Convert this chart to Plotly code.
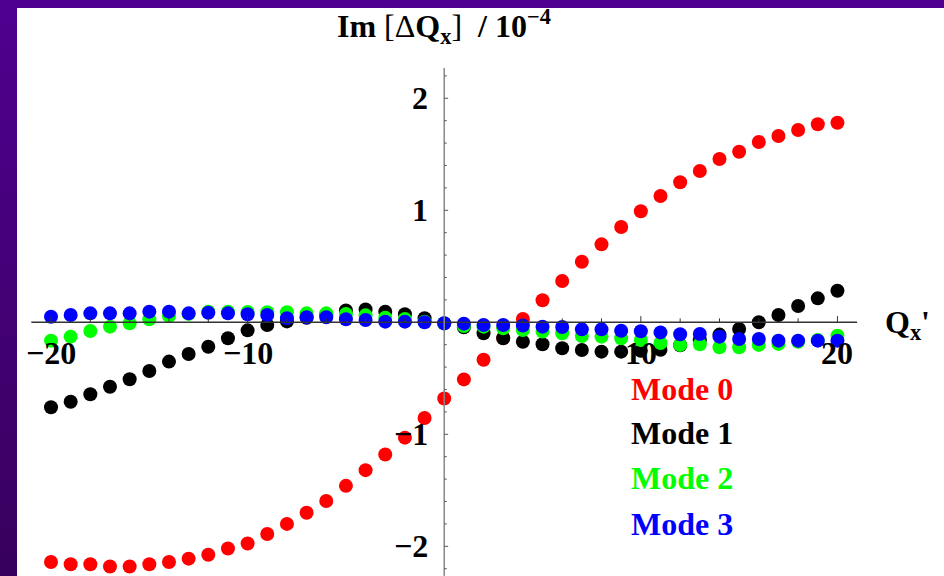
import plotly.graph_objects as go

# ---------------- data ----------------
qx = [-20, -19, -18, -17, -16, -15, -14, -13, -12, -11, -10, -9, -8, -7, -6, -5, -4, -3, -2, -1,
      0, 1, 2, 3, 4, 5, 6, 7, 8, 9, 10, 11, 12, 13, 14, 15, 16, 17, 18, 19, 20]

mode0 = [-2.14, -2.16, -2.16, -2.18, -2.18, -2.16, -2.14, -2.11, -2.075, -2.02, -1.975, -1.89,
         -1.80, -1.70, -1.595, -1.46, -1.32, -1.18, -1.03, -0.855, -0.68, -0.51, -0.335, -0.14,
         0.03, 0.197, 0.369, 0.541, 0.696, 0.851, 0.991, 1.128, 1.25, 1.351, 1.458, 1.523, 1.61,
         1.663, 1.717, 1.768, 1.782]

mode1 = [-0.759, -0.709, -0.643, -0.575, -0.509, -0.435, -0.351, -0.283, -0.218, -0.143, -0.072,
         -0.024, 0.008, 0.04, 0.07, 0.105, 0.115, 0.095, 0.072, 0.037, -0.01, -0.045, -0.098,
         -0.143, -0.173, -0.196, -0.232, -0.247, -0.262, -0.262, -0.255, -0.245, -0.205, -0.16,
         -0.11, -0.06, 0.0, 0.065, 0.146, 0.214, 0.282]

mode2 = [-0.164, -0.128, -0.078, -0.039, -0.009, 0.027, 0.056, 0.075, 0.095, 0.095, 0.092, 0.09,
         0.09, 0.08, 0.08, 0.075, 0.062, 0.04, 0.03, 0.005, -0.01, -0.033, -0.039, -0.054, -0.069,
         -0.083, -0.098, -0.122, -0.128, -0.143, -0.158, -0.185, -0.202, -0.196, -0.223, -0.223,
         -0.202, -0.193, -0.173, -0.158, -0.119]

mode3 = [0.05, 0.065, 0.08, 0.08, 0.08, 0.095, 0.095, 0.08, 0.085, 0.08, 0.072, 0.065, 0.036,
         0.045, 0.045, 0.027, 0.021, 0.006, 0.006, 0.0, -0.009, -0.012, -0.024, -0.024, -0.028,
         -0.039, -0.042, -0.063, -0.063, -0.075, -0.08, -0.09, -0.107, -0.104, -0.128, -0.149,
         -0.149, -0.164, -0.164, -0.164, -0.164]

series_names = ["Mode 0", "Mode 1", "Mode 2", "Mode 3"]
series_colors = ["#ff0000", "#000000", "#00ff00", "#0000ff"]

x_tick_labels = {-20: "\u221220", -10: "\u221210", 10: "10", 20: "20"}
y_tick_labels = {2: "2", 1: "1", -1: "\u22121", -2: "\u22122"}
x_minor_ticks = [-20, -18, -16, -14, -12, -10, -8, -6, -4, -2, 2, 4, 6, 8, 10, 12, 14, 16, 18, 20]
y_minor_ticks = [-2.2, -2.0, -1.8, -1.6, -1.4, -1.2, -1.0, -0.8, -0.6, -0.4, -0.2,
                 0.2, 0.4, 0.6, 0.8, 1.0, 1.2, 1.4, 1.6, 1.8, 2.0, 2.2]

title_text = "<b>Im</b> [\u0394<b>Q<sub>x</sub></b>]  <b>/ 10<sup>\u22124</sup></b>"
xlabel_text = "<b>Q<sub>x</sub>'</b>"

# ---------------- figure ----------------
FONT = "Liberation Serif"
FS = 32
XR = [-21.73, 25.42]
YR = [-2.265, 2.806]
W, H = 944, 576
ML, MT = 17, 8
PW, PH = W - ML, H - MT

fig = go.Figure()
for name, vals, col in zip(series_names, [mode0, mode1, mode2, mode3], series_colors):
    fig.add_trace(go.Scatter(x=qx, y=vals, mode="markers", name=name,
                             marker=dict(color=col, size=14, line=dict(width=0)),
                             showlegend=False))

shapes = []
# purple left strip gradient (decoration)
n = 24
top = 1 + MT / PH
for i in range(n):
    t = i / (n - 1)
    r = int(0x50 + (0x38 - 0x50) * t)
    b = int(0x8f + (0x5e - 0x8f) * t)
    shapes.append(dict(type="rect", xref="paper", yref="paper",
                       x0=-ML / PW, x1=0,
                       y0=top - (i + 1) / n * top, y1=top - i / n * top,
                       fillcolor=f"rgb({r},0,{b})", line=dict(width=0), layer="below"))

# axes lines
shapes.append(dict(type="line", xref="x", yref="y", x0=-21, x1=21, y0=0, y1=0,
                   line=dict(color="#333333", width=1.5)))
shapes.append(dict(type="line", xref="x", yref="y", x0=0, x1=0, y0=-2.27, y1=2.27,
                   line=dict(color="#888888", width=1.5)))
# x ticks (upwards)
for v in x_minor_ticks:
    L = 0.055 if v in x_tick_labels else 0.035
    shapes.append(dict(type="line", xref="x", yref="y", x0=v, x1=v, y0=0, y1=L,
                       line=dict(color="#333333", width=1)))
# y ticks (rightwards)
for v in y_minor_ticks:
    major = any(abs(v - k) < 1e-9 for k in y_tick_labels)
    L = 0.2 if major else 0.13
    shapes.append(dict(type="line", xref="x", yref="y", x0=0, x1=L, y0=v, y1=v,
                       line=dict(color="#555555", width=1)))

annotations = []
for v, s in x_tick_labels.items():
    annotations.append(dict(x=v, y=-0.274, xref="x", yref="y", text=s, showarrow=False,
                            xanchor="center", yanchor="middle",
                            font=dict(family=FONT, size=FS, color="black", weight="bold")))
for v, s in y_tick_labels.items():
    annotations.append(dict(x=-0.72, y=v, xref="x", yref="y", text=s, showarrow=False,
                            xanchor="right", yanchor="middle",
                            font=dict(family=FONT, size=FS, color="black", weight="bold")))
# title
annotations.append(dict(x=0, y=2.64, xref="x", yref="y", text=title_text, showarrow=False,
                        xanchor="center", yanchor="middle",
                        font=dict(family=FONT, size=FS, color="black")))
# x label
annotations.append(dict(x=22.3, y=-0.02, xref="x", yref="y", text=xlabel_text, showarrow=False,
                        xanchor="left", yanchor="middle",
                        font=dict(family=FONT, size=FS, color="black")))
# legend text
legend_y = [-0.596, -0.99, -1.39, -1.80]
for name, col, ly in zip(series_names, series_colors, legend_y):
    annotations.append(dict(x=9.38, y=ly, xref="x", yref="y", text=name, showarrow=False,
                            xanchor="left", yanchor="middle",
                            font=dict(family=FONT, size=FS, color=col, weight="bold")))

fig.update_layout(
    width=W, height=H,
    margin=dict(l=ML, r=0, t=MT, b=0),
    paper_bgcolor="#50008f",
    plot_bgcolor="white",
    xaxis=dict(range=XR, visible=False, fixedrange=True),
    yaxis=dict(range=YR, visible=False, fixedrange=True),
    shapes=shapes,
    annotations=annotations,
    showlegend=False,
)

fig.write_html(
    "out.html",
    config={"displayModeBar": False},
    post_script="document.body.style.margin='0';document.body.style.padding='0';"
                "document.body.style.background='#50008f';"
                "document.documentElement.style.overflow='hidden';",
)
